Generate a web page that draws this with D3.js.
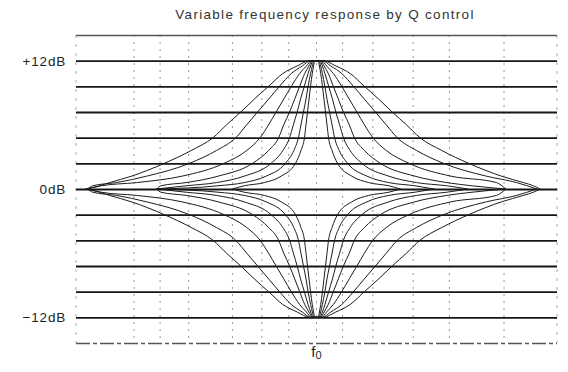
<!DOCTYPE html>
<html>
<head>
<meta charset="utf-8">
<script src="https://cdn.jsdelivr.net/npm/d3@7"></script>
<style>
  html, body { margin: 0; padding: 0; background: #fff; }
  svg { display: block; }
</style>
</head>
<body>
<svg id="chart" width="568" height="372"></svg>
<script>
// Peaking-filter response family: +12 dB boost and -12 dB cut at f0, one curve per Q setting.
const title = "Variable frequency response by Q control";

// Horizontal grid (dB) and the labelled levels
const gridDb = [-14.4, -12, -9.6, -7.2, -4.8, -2.4, 0, 2.4, 4.8, 7.2, 9.6, 12, 14.4];
const gainLabels = ["+12dB", "0dB", "\u221212dB"];
const gainLabelDb = [12, 0, -12];

// Vertical grid, in octaves from f0
const freqGrid = [-2.17, -1.86, -1.52, -1.0, -0.65, -0.33, 0, 0.31, 0.67, 1.15, 1.58, 2.23];

// Q settings shown, widest first
const qValues = [0.7, 1.0, 1.4, 2.0, 2.8, 4.0, 5.6];

// Response levels (dB away from flat) at which each curve's offset from f0 is tabulated
const levels = [0.3, 0.6, 1.2, 2.4, 3.6, 4.8, 6.0, 7.2, 8.4, 9.6, 10.8, 11.5, 12];

// Offset from f0 in octaves where each curve passes the levels above
const crossings = [
  [2.58, 2.46, 2.20, 1.81, 1.49, 1.23, 1.07, 0.90, 0.74, 0.57, 0.40, 0.23, 0.08],
  [2.66, 2.38, 2.02, 1.51, 1.19, 0.96, 0.83, 0.70, 0.57, 0.44, 0.30, 0.17, 0.07],
  [2.56, 2.14, 1.60, 1.10, 0.83, 0.67, 0.57, 0.48, 0.39, 0.30, 0.20, 0.12, 0.06],
  [1.85, 1.55, 1.17, 0.76, 0.57, 0.45, 0.39, 0.32, 0.26, 0.20, 0.14, 0.09, 0.05],
  [1.55, 1.19, 0.86, 0.54, 0.40, 0.32, 0.275, 0.23, 0.19, 0.145, 0.10, 0.07, 0.04],
  [1.17, 0.86, 0.60, 0.37, 0.27, 0.215, 0.185, 0.155, 0.125, 0.10, 0.07, 0.05, 0.03],
  [0.86, 0.62, 0.42, 0.25, 0.185, 0.143, 0.125, 0.107, 0.089, 0.071, 0.05, 0.035, 0.02]
];

// Where each curve settles back onto the flat line (octaves below / above f0)
const touchLow  = [2.75, 2.72, 2.72, 1.90, 1.90, 1.90, 1.00];
const touchHigh = [2.66, 2.62, 2.25, 2.25, 1.80, 1.40, 1.00];

// Boost and cut settings
const gains = [12, -12];

const svg = d3.select("#chart");
const margin = { left: 76, right: 11, top: 35, bottom: 29 };
const W = 568, H = 372;

const x = d3.scaleLinear().domain([-2.86, 2.86]).range([margin.left, W - margin.right]);
const y = d3.scaleLinear().domain([-14.4, 14.4]).range([H - margin.bottom, margin.top]);

const ink = "#161616";
const font = "'Liberation Sans', Arial, Helvetica, sans-serif";

// Title
svg.append("text")
  .attr("x", 325).attr("y", 19)
  .attr("text-anchor", "middle")
  .attr("font-family", font).attr("font-size", 13.5)
  .attr("letter-spacing", 1.3)
  .attr("fill", "#333")
  .text(title);

// Vertical dashed grid
const vg = svg.append("g");
vg.selectAll("line.v").data(freqGrid).join("line")
  .attr("class", "v")
  .attr("x1", d => x(d)).attr("x2", d => x(d))
  .attr("y1", y(14.4)).attr("y2", y(-14.4))
  .attr("stroke", "#999").attr("stroke-width", 1)
  .attr("stroke-dasharray", "2,5");
vg.selectAll("line.edge").data(x.domain()).join("line")
  .attr("class", "edge")
  .attr("x1", d => x(d)).attr("x2", d => x(d))
  .attr("y1", y(14.4)).attr("y2", y(-14.4))
  .attr("stroke", "#aaa").attr("stroke-width", 1)
  .attr("stroke-dasharray", "3,6");

// Horizontal grid via an axis with full-width ticks
const yAxis = d3.axisLeft(y).tickValues(gridDb)
  .tickSize(-(x.range()[1] - x.range()[0])).tickFormat("");
const ga = svg.append("g").attr("transform", `translate(${margin.left},0)`).call(yAxis);
ga.select(".domain").remove();
ga.selectAll(".tick line")
  .attr("stroke", d => Math.abs(d) > 14 ? "#555" : ink)
  .attr("stroke-width", d => Math.abs(d) > 14 ? 1.3 : 1.9)
  .attr("stroke-dasharray", d => d < -14 ? "14,3,4,3" : null);

// Level labels
svg.append("g").selectAll("text").data(gainLabelDb).join("text")
  .attr("x", 66).attr("y", d => y(d))
  .attr("dy", "0.36em")
  .attr("text-anchor", "end")
  .attr("font-family", font).attr("font-size", 13.5)
  .attr("letter-spacing", 0.8)
  .attr("fill", "#222")
  .text((d, i) => gainLabels[i]);

// Response curves
const line = d3.line()
  .x(d => x(d[0])).y(d => y(d[1]))
  .curve(d3.curveMonotoneX);

function curvePoints(i, gain) {
  const s = gain / 12;
  const pts = [[-touchLow[i], 0]];
  levels.forEach((lv, j) => {
    if (crossings[i][j] < touchLow[i]) pts.push([-crossings[i][j], lv * s]);
  });
  for (let j = levels.length - 1; j >= 0; j--) {
    if (crossings[i][j] < touchHigh[i]) pts.push([crossings[i][j], levels[j] * s]);
  }
  pts.push([touchHigh[i], 0]);
  return pts;
}

const curves = [];
gains.forEach(g => qValues.forEach((q, i) => curves.push({ q, g, pts: curvePoints(i, g) })));

svg.append("g").selectAll("path").data(curves).join("path")
  .attr("d", d => line(d.pts))
  .attr("fill", "none")
  .attr("stroke", "#1c1c1c")
  .attr("stroke-width", 1);

// f0 marker below the plot
const f0 = svg.append("text")
  .attr("x", x(0)).attr("y", 357)
  .attr("text-anchor", "middle")
  .attr("font-family", font).attr("font-size", 15)
  .attr("fill", "#222");
f0.append("tspan").text("f");
f0.append("tspan").attr("font-size", 11).attr("dy", 2).text("0");
</script>
</body>
</html>
